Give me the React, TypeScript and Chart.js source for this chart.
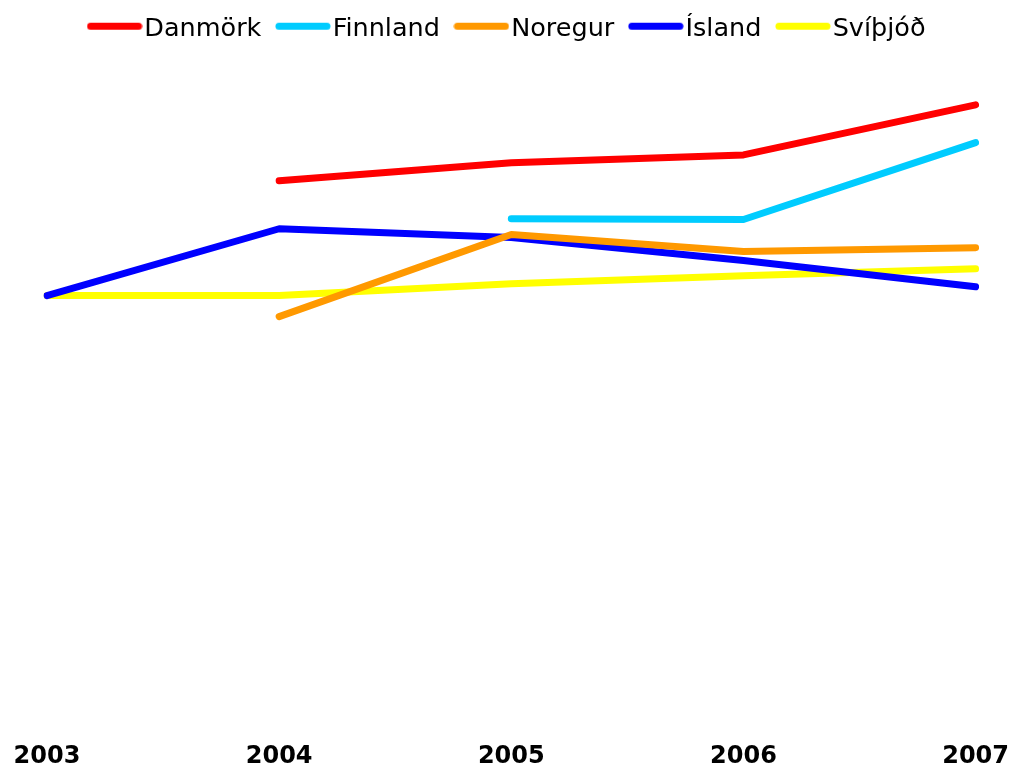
import React, { useEffect, useRef } from "react";
import { Chart, registerables } from "chart.js";

Chart.register(...registerables);

const years = ["2003", "2004", "2005", "2006", "2007"];
const danmork = [null, 126.1, 130.2, 132.0, 143.4];
const finnland = [null, null, 117.5, 117.3, 134.8];
const noregur = [null, 95.2, 113.9, 110.0, 110.9];
const island = [100, 115.2, 113.2, 108.0, 102.0];
const svithjod = [100, 100, 102.7, 104.5, 106.1];

const seriesNames = ["Danmörk", "Finnland", "Noregur", "Ísland", "Svíþjóð"];
const seriesColors = ["#FF0000", "#00CCFF", "#FF9900", "#0000FF", "#FFFF00"];

function legendLine(color: string): HTMLCanvasElement {
  const c = document.createElement("canvas");
  c.width = 56;
  c.height = 16;
  const ctx = c.getContext("2d");
  if (ctx) {
    ctx.strokeStyle = color;
    ctx.lineWidth = 7;
    ctx.lineCap = "round";
    ctx.beginPath();
    ctx.moveTo(4, 4.5);
    ctx.lineTo(52, 4.5);
    ctx.stroke();
  }
  return c;
}

export default function App() {
  const ref = useRef<HTMLCanvasElement | null>(null);
  useEffect(() => {
    if (!ref.current) return;
    const values = [danmork, finnland, noregur, island, svithjod];
    const chart = new Chart(ref.current, {
      type: "line",
      data: {
        labels: years,
        datasets: values.map((v, i) => ({
          label: seriesNames[i],
          data: v,
          borderColor: seriesColors[i],
          backgroundColor: seriesColors[i],
          borderWidth: 7,
          borderCapStyle: "round",
          borderJoinStyle: "round",
          pointRadius: 0,
          pointHoverRadius: 0,
          pointStyle: legendLine(seriesColors[i]),
          tension: 0,
          fill: false,
          spanGaps: false,
        })),
      },
      options: {
        animation: false,
        responsive: true,
        maintainAspectRatio: false,
        layout: { padding: { left: 47, right: 37, top: -7.5, bottom: -8 } },
        plugins: {
          tooltip: { enabled: false },
          legend: {
            display: true,
            position: "top",
            labels: {
              usePointStyle: true,
              pointStyleWidth: 34,
              boxHeight: 25,
              padding: 24.5,
              color: "#000000",
              font: { family: "DejaVu Sans", size: 25.5 },
            },
          },
        },
        scales: {
          x: {
            offset: false,
            grid: { display: false, drawTicks: false },
            border: { display: false },
            ticks: {
              color: "#000000",
              padding: 4,
              maxRotation: 0,
              font: { family: "DejaVu Sans", size: 24, weight: "bold", lineHeight: 1 },
            },
          },
          y: {
            display: false,
            min: -1.34,
            max: 155.3,
          },
        },
      },
    });
    return () => chart.destroy();
  }, []);
  return (
    <div style={{ position: "absolute", left: 0, top: 0, width: 1013, height: 765 }}>
      <canvas ref={ref} />
    </div>
  );
}
